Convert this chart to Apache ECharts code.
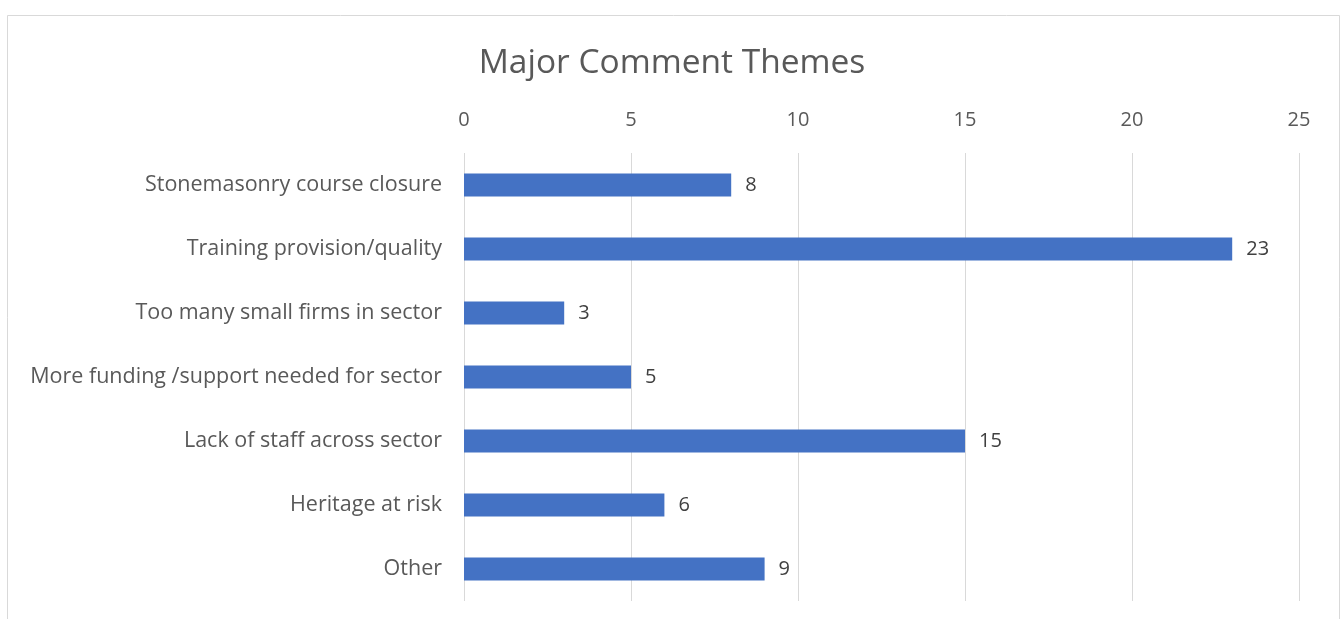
<!DOCTYPE html>
<html>
<head>
<meta charset="utf-8">
<style>
  html, body { margin: 0; padding: 0; background: #ffffff; }
  #chart { width: 1344px; height: 619px; }
</style>
<script src="https://cdn.jsdelivr.net/npm/echarts@6/dist/echarts.min.js"></script>
</head>
<body>
<div id="chart"></div>
<script>
// Comment themes and how many responses mentioned each
const themes = [
  'Stonemasonry course closure',
  'Training provision/quality',
  'Too many small firms in sector',
  'More funding /support needed for sector',
  'Lack of staff across sector',
  'Heritage at risk',
  'Other'
];
const counts = [8, 23, 3, 5, 15, 6, 9];
const valueTicks = [0, 5, 10, 15, 20, 25];

const fontFamily = '"Open Sans", "Noto Sans", "DejaVu Sans", sans-serif';
const chart = echarts.init(document.getElementById('chart'), null, { renderer: 'canvas' });

chart.setOption({
  animation: false,
  backgroundColor: '#ffffff',
  textStyle: { fontFamily: fontFamily },
  title: {
    text: 'Major Comment Themes',
    left: 'center',
    top: 41,
    textStyle: { fontFamily: fontFamily, fontSize: 33.5, fontWeight: 'normal', color: '#595959' }
  },
  graphic: [{
    type: 'rect',
    shape: { x: 7.5, y: 15.5, width: 1332, height: 640 },
    style: { fill: 'none', stroke: '#d9d9d9', lineWidth: 1 },
    silent: true,
    z: -1
  }],
  grid: { left: 464, right: 45, top: 153, bottom: 18, containLabel: false },
  xAxis: {
    type: 'value',
    position: 'top',
    min: valueTicks[0],
    max: valueTicks[valueTicks.length - 1],
    interval: valueTicks[1] - valueTicks[0],
    axisLine: { show: false },
    axisTick: { show: false },
    axisLabel: { color: '#595959', fontSize: 20, margin: 23 },
    splitLine: { show: true, lineStyle: { color: '#d9d9d9', width: 1 } }
  },
  yAxis: {
    type: 'category',
    data: themes,
    inverse: true,
    axisLine: { show: false },
    axisTick: { show: false },
    axisLabel: { color: '#595959', fontSize: 21.5, margin: 22 }
  },
  series: [{
    type: 'bar',
    data: counts,
    barWidth: '36%',
    itemStyle: { color: '#4472C4' },
    label: {
      show: true,
      position: 'right',
      distance: 14,
      color: '#404040',
      fontSize: 20
    }
  }]
});
</script>
</body>
</html>
